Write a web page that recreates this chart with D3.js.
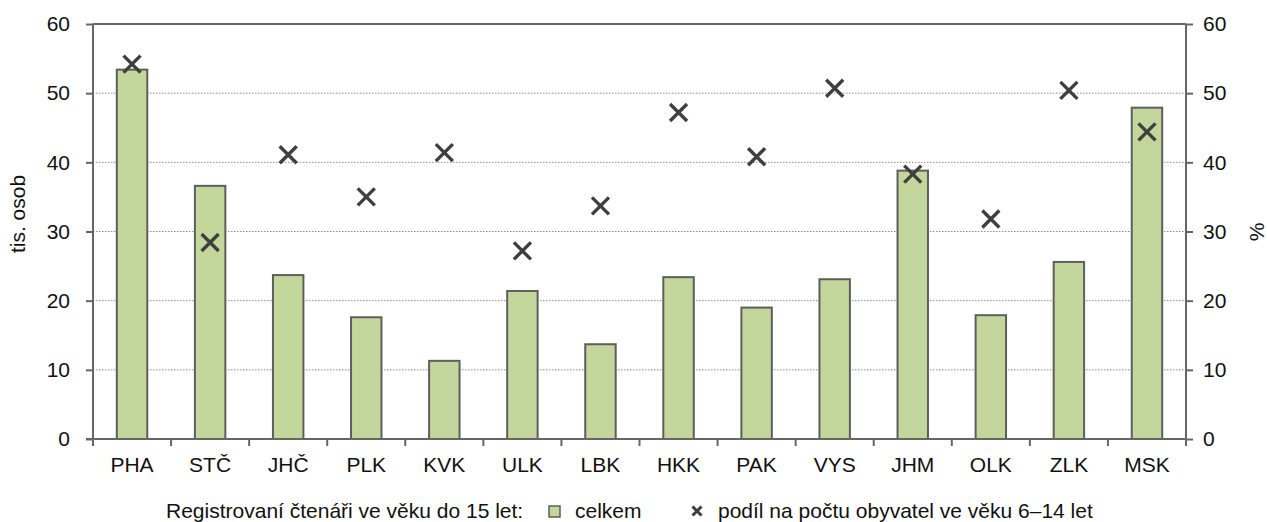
<!DOCTYPE html>
<html><head><meta charset="utf-8">
<script src="https://cdn.jsdelivr.net/npm/d3@7"></script>
<style>
body{margin:0;background:#fff;}
text{font-family:"Liberation Sans",Arial,sans-serif;fill:#111;}
</style></head>
<body><svg id="c" width="1267" height="522"></svg>
<script>
const categories = ["PHA","STČ","JHČ","PLK","KVK","ULK","LBK","HKK","PAK","VYS","JHM","OLK","ZLK","MSK"];
const celkem = [53.4,36.6,23.7,17.6,11.3,21.4,13.7,23.4,19.0,23.1,38.8,17.9,25.6,47.9];
const podil = [54.2,28.4,41.1,35.0,41.4,27.2,33.7,47.2,40.8,50.7,38.3,31.8,50.4,44.4];
const leftTicks = [0,10,20,30,40,50,60];
const rightTicks = [0,10,20,30,40,50,60];
const leftTitle = "tis. osob";
const rightTitle = "%";
const legendLead = "Registrovaní čtenáři ve věku do 15 let:";
const legendBar = "celkem";
const legendMark = "podíl na počtu obyvatel ve věku 6–14 let";

const svg = d3.select("#c");
const L = 93, R = 1186, T = 24, B = 439;
const axisColor = "#666";
const fs = 21;

const x = d3.scaleBand().domain(categories).range([L, R]).paddingInner(0.61).paddingOuter(0.305);
const yL = d3.scaleLinear().domain([0, 60]).range([B, T]);
const yR = d3.scaleLinear().domain([0, 60]).range([B, T]);

// gridlines
svg.append("g").selectAll("line").data(leftTicks.filter(d => d > 0 && d < 60)).join("line")
  .attr("x1", L).attr("x2", R).attr("y1", d => yL(d)).attr("y2", d => yL(d))
  .attr("stroke", "#8c8c8c").attr("stroke-width", 1).attr("stroke-dasharray", "1.5,1.5");

// bars
svg.append("g").selectAll("rect").data(categories).join("rect")
  .attr("x", d => x(d)).attr("width", x.bandwidth())
  .attr("y", (d, i) => yL(celkem[i])).attr("height", (d, i) => B - yL(celkem[i]))
  .attr("fill", "#c3d69b").attr("stroke", "#5e5e5e").attr("stroke-width", 2);

// top border
svg.append("line").attr("x1", L).attr("x2", R).attr("y1", T).attr("y2", T)
  .attr("stroke", axisColor).attr("stroke-width", 2);

// left axis
const gl = svg.append("g").attr("transform", `translate(${L},0)`)
  .call(d3.axisLeft(yL).tickValues(leftTicks).tickSize(7).tickPadding(16));
// right axis
const gr = svg.append("g").attr("transform", `translate(${R},0)`)
  .call(d3.axisRight(yR).tickValues(rightTicks).tickSize(7).tickPadding(10));
// bottom axis
const gb = svg.append("g").attr("transform", `translate(0,${B})`)
  .call(d3.axisBottom(x).tickSize(0).tickPadding(18));
[gl, gr, gb].forEach(g => {
  g.selectAll("path.domain").attr("stroke", axisColor).attr("stroke-width", 2);
  g.selectAll(".tick line").attr("stroke", axisColor).attr("stroke-width", 2);
  g.selectAll("text").attr("font-size", fs).attr("font-family", "Liberation Sans, Arial, sans-serif").attr("fill", "#111");
});
gb.select("path.domain").attr("d", `M${L - 7},0H${R}`);
gl.select("path.domain").attr("d", `M0,${B + 7}V${T}`);
gr.select("path.domain").attr("d", `M0,${B + 7}V${T}`);
// category boundary ticks
const step = x.step();
svg.append("g").selectAll("line").data(d3.range(categories.length + 1)).join("line")
  .attr("x1", i => L + i * step).attr("x2", i => L + i * step)
  .attr("y1", B).attr("y2", B + 7)
  .attr("stroke", axisColor).attr("stroke-width", 2);

// X markers
const s = 8.5;
const mk = svg.append("g");
categories.forEach((c, i) => {
  const cx = x(c) + x.bandwidth() / 2, cy = yR(podil[i]);
  mk.append("path").attr("d", `M${cx - s},${cy - s}L${cx + s},${cy + s}M${cx - s},${cy + s}L${cx + s},${cy - s}`)
    .attr("stroke", "#3f3f3f").attr("stroke-width", 3.4).attr("fill", "none");
});

// axis titles
svg.append("text").attr("transform", `translate(25,214) rotate(-90)`).attr("text-anchor", "middle")
  .attr("font-size", fs).text(leftTitle);
svg.append("text").attr("transform", `translate(1264,232) rotate(-90)`).attr("text-anchor", "middle")
  .attr("font-size", fs).text(rightTitle);

// legend
const ly = 518;
svg.append("text").attr("x", 166).attr("y", ly).attr("font-size", fs).text(legendLead);
svg.append("rect").attr("x", 549).attr("y", 506).attr("width", 11).attr("height", 11)
  .attr("fill", "#c3d69b").attr("stroke", "#5e5e5e").attr("stroke-width", 1.5);
svg.append("text").attr("x", 575).attr("y", ly).attr("font-size", fs).text(legendBar);
const lx = 697, lyc = 511, ls = 4.5;
svg.append("path").attr("d", `M${lx - ls},${lyc - ls}L${lx + ls},${lyc + ls}M${lx - ls},${lyc + ls}L${lx + ls},${lyc - ls}`)
  .attr("stroke", "#3f3f3f").attr("stroke-width", 3).attr("fill", "none");
svg.append("text").attr("x", 718).attr("y", ly).attr("font-size", fs).text(legendMark);
</script></body></html>
